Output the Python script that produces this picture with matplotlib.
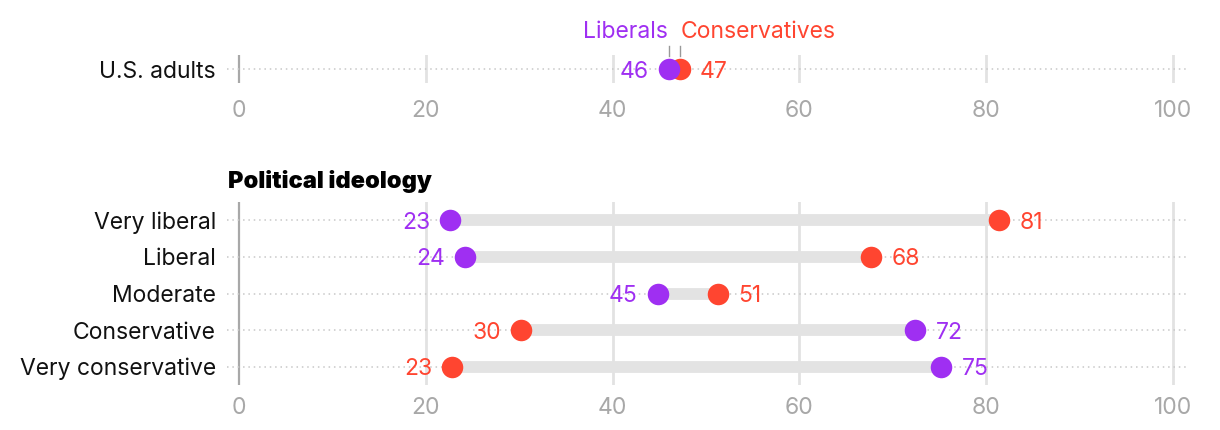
import matplotlib
matplotlib.use("Agg")
import matplotlib.pyplot as plt

plt.rcParams['font.family'] = ['Inter', 'DejaVu Sans']

# Data
top_category = ["U.S. adults"]
top_liberals = [46.0]
top_conservatives = [47.2]

categories = ["Very liberal", "Liberal", "Moderate", "Conservative", "Very conservative"]
liberals = [22.6, 24.2, 44.8, 72.4, 75.2]
conservatives = [81.4, 67.7, 51.3, 30.2, 22.8]

xticks = [0, 20, 40, 60, 80, 100]
xticklabels = ["0", "20", "40", "60", "80", "100"]

PURPLE = "#9f2ff2"
RED = "#ff4530"
BAR = "#e3e3e3"
GRID = "#e2e2e2"
TICK = "#a8a8a8"
FS = 16.5

W, H = 1220, 430
fig = plt.figure(figsize=(W / 100, H / 100), dpi=100)

def px_axes(x0, y0, x1, y1):
    return fig.add_axes([x0 / W, 1 - y1 / H, (x1 - x0) / W, (y1 - y0) / H])

XMIN, XMAX = -1.3, 101.5
ax_top = px_axes(227, 55, 1187, 83)
ax_bot = px_axes(227, 202, 1187, 385)


def draw(ax, cats, libs, cons, pad_tick):
    n = len(cats)
    ax.set_xlim(XMIN, XMAX)
    ax.set_ylim(n - 0.5, -0.5)
    for s in ax.spines.values():
        s.set_visible(False)
    for xv in xticks[1:]:
        ax.axvline(xv, color=GRID, lw=2, zorder=0)
    ax.axvline(0, color=TICK, lw=1.6, zorder=1)
    for i in range(n):
        ax.axhline(i, color="#c8c8c8", lw=1.1, ls=(0, (1, 2.5)), zorder=1)
        lo, hi = min(libs[i], cons[i]), max(libs[i], cons[i])
        ax.plot([lo, hi], [i, i], color=BAR, lw=8.5, solid_capstyle='butt', zorder=2)
        ax.plot(cons[i], i, 'o', color=RED, ms=15.5, mec='none', zorder=3)
        ax.plot(libs[i], i, 'o', color=PURPLE, ms=15.5, mec='none', zorder=4)
        for v, c in ((libs[i], PURPLE), (cons[i], RED)):
            if v == lo:
                ax.annotate(f"{round(v)}", (v, i), xytext=(-14.5, 0), textcoords='offset points',
                            ha='right', va='center_baseline', color=c, fontsize=FS)
            else:
                ax.annotate(f"{round(v)}", (v, i), xytext=(14.5, 0), textcoords='offset points',
                            ha='left', va='center_baseline', color=c, fontsize=FS)
    ax.set_yticks(range(n))
    ax.set_yticklabels(cats, fontsize=FS, color="#111111", va='center_baseline')
    ax.set_xticks(xticks)
    ax.set_xticklabels(xticklabels, fontsize=FS, color=TICK)
    ax.tick_params(axis='both', length=0)
    ax.tick_params(axis='y', pad=8)
    ax.tick_params(axis='x', pad=pad_tick)
    ax.set_facecolor('none')


draw(ax_top, top_category, top_liberals, top_conservatives, 12)
draw(ax_bot, categories, liberals, conservatives, 9)

# Legend labels above the top row
ax_top.annotate("Liberals", (top_liberals[0], -0.5), xytext=(-0.5, 16.5), textcoords='offset points',
                ha='right', va='center', color=PURPLE, fontsize=FS, annotation_clip=False)
ax_top.annotate("Conservatives", (top_conservatives[0], -0.5), xytext=(0.5, 16.5), textcoords='offset points',
                ha='left', va='center', color=RED, fontsize=FS, annotation_clip=False)
for v in (top_liberals[0], top_conservatives[0]):
    ax_top.plot([v, v], [-0.45, -0.82], color="#999999", lw=1, clip_on=False, zorder=5)

ax_bot.text(228 / W, 1 - 182 / H, "Political ideology", transform=fig.transFigure,
            fontsize=17, fontweight='black', ha='left', va='center', color="#000000")

fig.savefig("out.png", dpi=100)
